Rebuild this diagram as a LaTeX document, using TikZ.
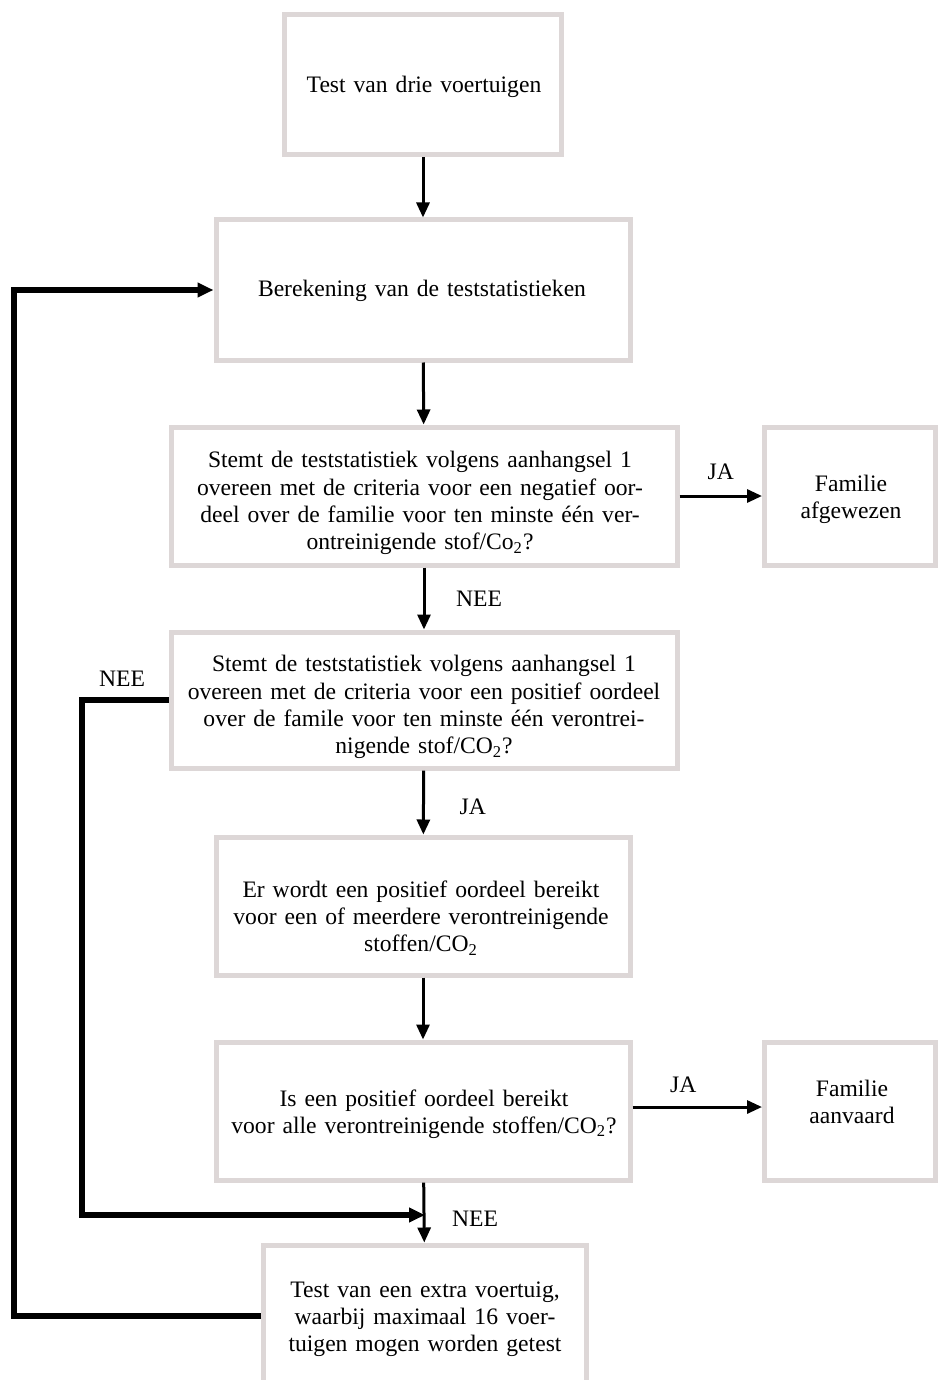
\documentclass[tikz,border=0pt]{standalone}
\usepackage{fontspec}
\setmainfont[WordSpace=1.35]{Liberation Serif}
\usetikzlibrary{arrows.meta}
\definecolor{boxline}{RGB}{221,215,215}

\begin{document}
\begin{tikzpicture}[x=0.5pt, y=-0.5pt,
	box/.style={shape=rectangle, draw=boxline, line width=2.5pt},
	boxtext/.style={align=center, inner sep=0pt, font=\fontsize{11.8}{13.6}\selectfont},
	wire/.style={line width=1.5pt, -{Triangle[length=7.5pt, width=6.5pt]}},
	backwire/.style={line width=2.6pt, -{Triangle[length=8pt, width=7pt]}},
	lbl/.style={font=\fontsize{11.8}{13.6}\selectfont}]
	\useasboundingbox (0,0) rectangle (937,1380);
	% Paths, nodes and wires:
	\node[box, minimum width=138.5pt, minimum height=70pt] (drie) at (423, 85){} node[boxtext] (drietext) at (424, 87){Test van drie voertuigen};
	\node[box, minimum width=207pt, minimum height=70pt] (bereken) at (423, 290){} node[boxtext] (berekentext) at (422, 291){Berekening van de teststatistieken};
	\node[box, minimum width=253pt, minimum height=69pt] (negatief) at (424, 496){} node[boxtext] (negatieftext) at (420, 503){Stemt de teststatistiek volgens aanhangsel 1\\ overeen met de criteria voor een negatief oor-\\ deel over de familie voor ten minste één ver-\\ ontreinigende stof/Co\textsubscript{2}?};
	\node[box, minimum width=85.5pt, minimum height=69pt] (afgewezen) at (850, 496){} node[boxtext] (afgewezentext) at (851, 499){Familie\\ afgewezen};
	\node[box, minimum width=253pt, minimum height=68pt] (positief) at (424, 700){} node[boxtext] (positieftext) at (424, 707){Stemt de teststatistiek volgens aanhangsel 1\\ overeen met de criteria voor een positief oordeel\\ over de famile voor ten minste één verontrei-\\ nigende stof/CO\textsubscript{2}?};
	\node[box, minimum width=207pt, minimum height=69pt] (bereikt) at (423, 906){} node[boxtext] (bereikttext) at (421, 918){Er wordt een positief oordeel bereikt\\ voor een of meerdere verontreinigende\\ stoffen/CO\textsubscript{2}};
	\node[box, minimum width=207pt, minimum height=69pt] (alle) at (423, 1111){} node[boxtext] (alletext) at (424, 1114){Is een positief oordeel bereikt\\ voor alle verontreinigende stoffen/CO\textsubscript{2}?};
	\node[box, minimum width=85.5pt, minimum height=69pt] (aanvaard) at (850, 1111){} node[boxtext] (aanvaardtext) at (852, 1102){Familie\\ aanvaard};
	\node[box, minimum width=161.5pt, minimum height=71pt] (extra) at (425, 1316){} node[boxtext] (extratext) at (425, 1319){Test van een extra voertuig,\\ waarbij maximaal 16 voer-\\ tuigen mogen worden getest};
	\coordinate (join) at (425, 1215);
	\coordinate (neeturn) at (82, 1215);
	\coordinate (loopturn) at (14, 290);
	\draw[wire] (drie) -- (bereken);
	\draw[wire] (bereken) -- (negatief);
	\draw[wire] (negatief) -- node[lbl, above, yshift=4pt] (ja1) {JA} (afgewezen);
	\draw[wire] (negatief) -- node[lbl, right, xshift=12pt] (nee1) {NEE} (positief);
	\draw[wire] (positief) -- node[lbl, right, xshift=14pt, yshift=-2pt] (ja2) {JA} (bereikt);
	\draw[wire] (bereikt) -- (alle);
	\draw[wire] (alle.east |- 0,1107) -- node[lbl, above, xshift=-7pt, yshift=3pt] (ja3) {JA} (aanvaard.west |- 0,1107);
	\draw[wire] (alle) -- node[lbl, right, xshift=10pt, yshift=-3pt] (nee2) {NEE} (extra);
	\draw[backwire] (positief.west) -| (neeturn) -- (join);
	\node[lbl] (nee3) at (122, 679) {NEE};
	\draw[backwire] (extra.west) -| (loopturn) -- (bereken.west);
\end{tikzpicture}
\end{document}
